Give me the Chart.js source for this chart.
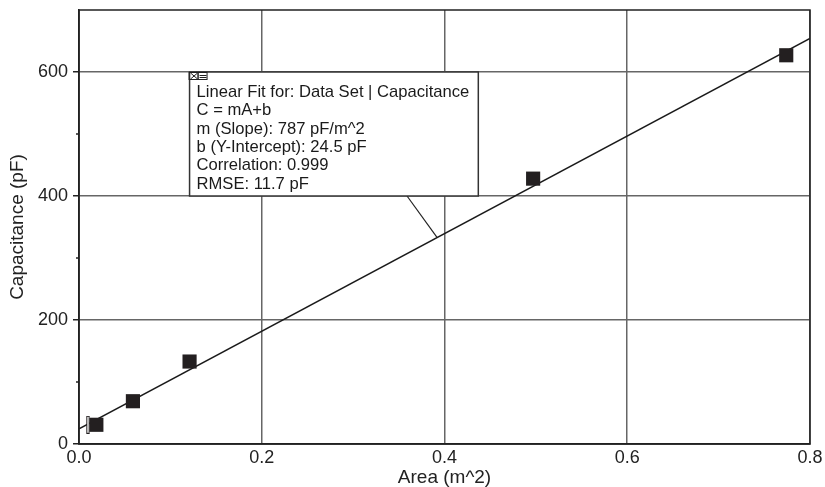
<!DOCTYPE html>
<html>
<head>
<meta charset="utf-8">
<script src="https://cdn.jsdelivr.net/npm/chart.js@4/dist/chart.umd.min.js"></script>
<style>
  html, body { margin: 0; padding: 0; background: #fff; }
  #wrap { width: 825px; height: 487px; }
</style>
</head>
<body>
<div id="wrap"><canvas id="capChart" width="825" height="487"></canvas></div>
<script>
// measured data
const area = [0.019, 0.059, 0.121, 0.497, 0.774];
const capacitance = [31, 69, 133, 428, 627];

// linear fit line end points (C = mA + b)
const fitArea = [0, 0.8];
const fitCap = [24.5, 654.1];

// fit range bracket
const bracketArea = [0.0096];
const bracketCap = [31];

const xTicks = [0, 0.2, 0.4, 0.6, 0.8];
const yTicks = [0, 200, 400, 600];

const fitLines = [
  "Linear Fit for: Data Set | Capacitance",
  "C = mA+b",
  "m (Slope): 787 pF/m^2",
  "b (Y-Intercept): 24.5 pF",
  "Correlation: 0.999",
  "RMSE: 11.7 pF"
];

const FONT = "'Liberation Sans', Arial, Helvetica, sans-serif";

// box anchored in data units
const fitBox = { x0: 0.121, x1: 0.437, y0: 400, y1: 600, tipX0: 0.359, tipX1: 0.392 };

// tall open bracket marker
const bracketImg = document.createElement("canvas");
bracketImg.width = 5; bracketImg.height = 18;
(function () {
  let c = bracketImg.getContext("2d");
  c.strokeStyle = "#231f20";
  c.lineWidth = 1;
  c.fillStyle = "#fff";
  c.fillRect(1, 0.5, 3, 17);
  c.strokeRect(1.5, 0.5, 2.5, 17);
})();

const framePlugin = {
  id: "frame",
  afterDatasetsDraw(chart) {
    let ctx = chart.ctx;
    let xs = chart.scales.x, ys = chart.scales.y;
    let a = chart.chartArea;

    // frame
    ctx.save();
    ctx.strokeStyle = "#222";
    ctx.lineWidth = 1.5;
    ctx.strokeRect(a.left, a.top, a.right - a.left, a.bottom - a.top);

    // minor ticks on y
    [100, 300, 500].forEach(v => {
      let py = ys.getPixelForValue(v);
      ctx.beginPath();
      ctx.moveTo(a.left - 3, py);
      ctx.lineTo(a.left, py);
      ctx.stroke();
    });

    // pointer from box to the fit line
    let bx = xs.getPixelForValue(fitBox.tipX0);
    let by = ys.getPixelForValue(fitBox.y0);
    let tx = xs.getPixelForValue(fitBox.tipX1);
    let ty = ys.getPixelForValue(fitCap[0] + (fitCap[1] - fitCap[0]) * (fitBox.tipX1 - fitArea[0]) / (fitArea[1] - fitArea[0]));
    ctx.strokeStyle = "#222";
    ctx.lineWidth = 1.2;
    ctx.beginPath();
    ctx.moveTo(bx, by);
    ctx.lineTo(tx, ty);
    ctx.stroke();

    // annotation box
    let l = xs.getPixelForValue(fitBox.x0), r = xs.getPixelForValue(fitBox.x1);
    let t = ys.getPixelForValue(fitBox.y1), b = ys.getPixelForValue(fitBox.y0);
    ctx.fillStyle = "#fff";
    ctx.fillRect(l, t, r - l, b - t);
    ctx.strokeStyle = "#333";
    ctx.lineWidth = 1.5;
    ctx.strokeRect(l, t, r - l, b - t);

    // little close/minimise icon
    ctx.lineWidth = 1;
    ctx.strokeStyle = "#222";
    ctx.strokeRect(l - 0.5, t + 0.5, 9, 7);
    ctx.strokeRect(l + 8.5, t + 0.5, 9, 7);
    ctx.beginPath();
    ctx.moveTo(l + 1, t + 1); ctx.lineTo(l + 8, t + 7);
    ctx.moveTo(l + 8, t + 1); ctx.lineTo(l + 1, t + 7);
    ctx.moveTo(l + 10, t + 3.5); ctx.lineTo(l + 17, t + 3.5);
    ctx.moveTo(l + 10, t + 5.5); ctx.lineTo(l + 17, t + 5.5);
    ctx.stroke();

    ctx.fillStyle = "#1a1a1a";
    ctx.font = "16.6px " + FONT;
    ctx.textBaseline = "middle";
    ctx.textAlign = "left";
    fitLines.forEach((s, i) => {
      ctx.fillText(s, l + 7, t + 20.5 + i * 18.35);
    });
    ctx.restore();
  }
};

const ctx = document.getElementById("capChart").getContext("2d");
new Chart(ctx, {
  type: "scatter",
  data: {
    datasets: [
      {
        label: "fit",
        type: "line",
        data: fitArea.map((x, i) => ({ x: x, y: fitCap[i] })),
        borderColor: "#1a1a1a",
        borderWidth: 1.6,
        pointRadius: 0,
        fill: false,
        order: 3
      },
      {
        label: "range",
        data: bracketArea.map((x, i) => ({ x: x, y: bracketCap[i] })),
        pointStyle: bracketImg,
        order: 2
      },
      {
        label: "Capacitance",
        data: area.map((x, i) => ({ x: x, y: capacitance[i] })),
        pointStyle: "rect",
        pointRadius: 10,
        pointBorderWidth: 0,
        backgroundColor: "#231f20",
        borderColor: "#231f20",
        order: 1
      }
    ]
  },
  options: {
    responsive: false,
    animation: false,
    events: [],
    layout: { padding: { top: 10, right: 15, left: 0, bottom: 0 } },
    plugins: {
      legend: { display: false },
      tooltip: { enabled: false }
    },
    scales: {
      x: {
        type: "linear",
        min: 0,
        max: 0.8,
        afterBuildTicks: s => { s.ticks = xTicks.map(v => ({ value: v })); },
        afterFit: s => { s.height = 43; s.paddingLeft = 0; s.paddingRight = 0; },
        ticks: {
          color: "#222",
          font: { family: FONT, size: 18 },
          padding: 3,
          maxRotation: 0,
          callback: v => v.toFixed(1)
        },
        grid: { color: "#666", lineWidth: 1.5, drawTicks: false },
        border: { color: "#222", width: 1.5 },
        title: {
          display: true,
          text: "Area (m^2)",
          color: "#222",
          font: { family: FONT, size: 19, lineHeight: 1 },
          padding: { top: 0, bottom: 0 }
        }
      },
      y: {
        type: "linear",
        min: 0,
        max: 700,
        afterBuildTicks: s => { s.ticks = yTicks.map(v => ({ value: v })); },
        afterFit: s => { s.width = 79; s.paddingTop = 0; s.paddingBottom = 0; },
        ticks: {
          color: "#222",
          font: { family: FONT, size: 18 },
          padding: 5
        },
        grid: { color: "#666", lineWidth: 1.5, tickLength: 6, tickColor: "#222" },
        border: { color: "#222", width: 1.5 },
        title: {
          display: true,
          text: "Capacitance (pF)",
          color: "#222",
          font: { family: FONT, size: 19, lineHeight: 1 },
          padding: { top: 8.5, bottom: 0 }
        }
      }
    }
  },
  plugins: [framePlugin]
});
</script>
</body>
</html>
